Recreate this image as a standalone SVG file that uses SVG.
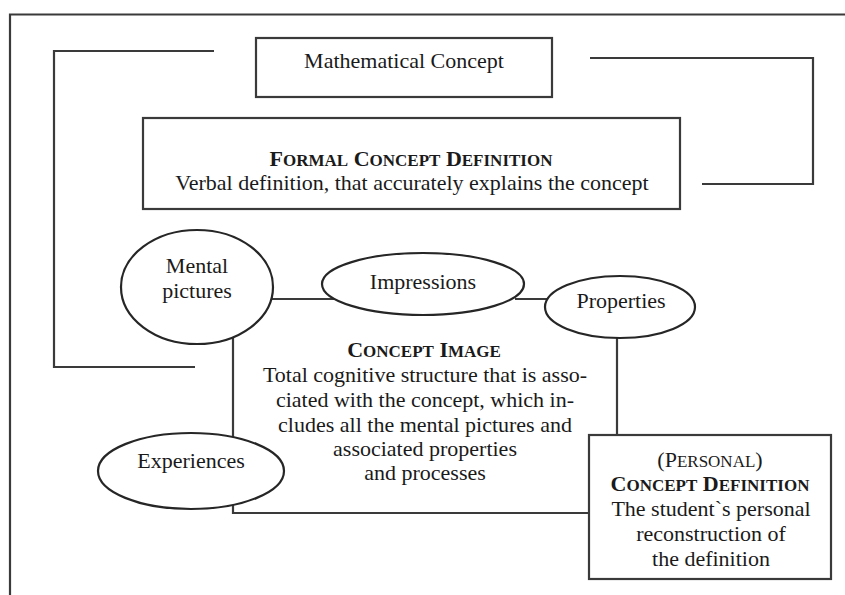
<svg xmlns="http://www.w3.org/2000/svg" width="845" height="595" viewBox="0 0 845 595">
<style>
  .ln { fill: none; stroke: #3a3a3a; stroke-width: 2.2; }
  .box { fill: #ffffff; stroke: #3a3a3a; stroke-width: 2.2; }
  .ell { fill: #ffffff; stroke: #262626; stroke-width: 2.2; }
  .t { font-size: 22px; fill: #1a1a1a; text-anchor: middle; }
  .b { font-weight: bold; }
  .s { font-size: 17px; }
</style>
<rect x="0" y="0" width="845" height="595" fill="#ffffff"/>
<g id="frame">
  <polyline class="ln" points="845,14.5 10,14.5 10,595"/>
</g>
<g id="connectors">
  <polyline class="ln" points="214,51 54,51 54,367 195,367"/>
  <polyline class="ln" points="590,58 813,58 813,184 702,184"/>
  <line class="ln" x1="260" y1="299" x2="335" y2="299"/>
  <line class="ln" x1="515" y1="299" x2="555" y2="299"/>
  <polyline class="ln" points="233,330 233,513 589,513"/>
  <line class="ln" x1="617" y1="330" x2="617" y2="435"/>
</g>
<g font-family="Liberation Serif, DejaVu Serif, serif">
<g id="mathematical-concept">
  <rect class="box" x="256" y="38" width="296" height="59"/>
  <text class="t" x="404" y="68">Mathematical Concept</text>
</g>
<g id="formal-concept-definition">
  <rect class="box" x="143" y="118" width="537" height="91"/>
  <text class="t b" x="411" y="166">F<tspan class="s">ORMAL</tspan> C<tspan class="s">ONCEPT</tspan> D<tspan class="s">EFINITION</tspan></text>
  <text class="t" x="412" y="190">Verbal definition, that accurately explains the concept</text>
</g>
<g id="concept-image">
  <text class="t b" x="424" y="357">C<tspan class="s">ONCEPT</tspan> I<tspan class="s">MAGE</tspan></text>
  <text class="t" x="425" y="382">Total cognitive structure that is asso-</text>
  <text class="t" x="425" y="407">ciated with the concept, which in-</text>
  <text class="t" x="425" y="432">cludes all the mental pictures and</text>
  <text class="t" x="425" y="456">associated properties</text>
  <text class="t" x="425" y="480">and processes</text>
</g>
<g id="mental-pictures">
  <ellipse class="ell" cx="197" cy="287" rx="76" ry="57"/>
  <text class="t" x="197" y="273">Mental</text>
  <text class="t" x="197" y="298">pictures</text>
</g>
<g id="impressions">
  <ellipse class="ell" cx="423" cy="284" rx="101" ry="31"/>
  <text class="t" x="423" y="289">Impressions</text>
</g>
<g id="properties">
  <ellipse class="ell" cx="620" cy="307" rx="75" ry="31"/>
  <text class="t" x="621" y="308">Properties</text>
</g>
<g id="experiences">
  <ellipse class="ell" cx="191" cy="471" rx="93" ry="38"/>
  <text class="t" x="191" y="468">Experiences</text>
</g>
<g id="personal-concept-definition">
  <rect class="box" x="589" y="435" width="242" height="144"/>
  <text class="t" x="710" y="467">(P<tspan class="s">ERSONAL</tspan>)</text>
  <text class="t b" x="710" y="491">C<tspan class="s">ONCEPT</tspan> D<tspan class="s">EFINITION</tspan></text>
  <text class="t" x="711" y="516">The student`s personal</text>
  <text class="t" x="711" y="541">reconstruction of</text>
  <text class="t" x="711" y="566">the definition</text>
</g>
</g>
</svg>
